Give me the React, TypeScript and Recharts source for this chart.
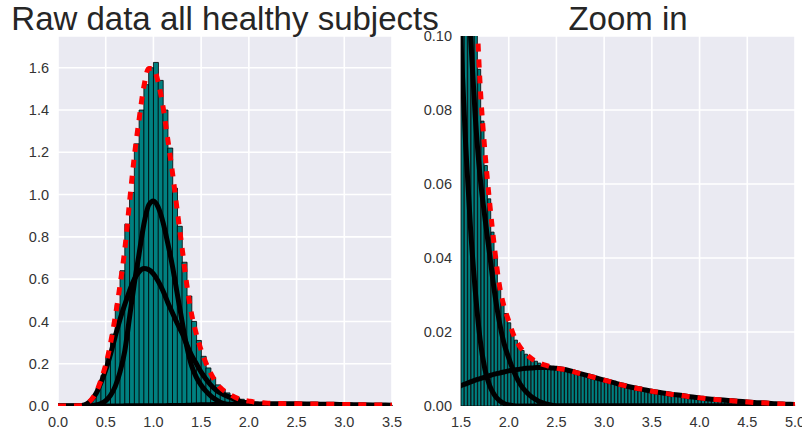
import React from 'react';
import { ComposedChart, Bar, Line, XAxis, YAxis, CartesianGrid } from 'recharts';

const FONT = '"Liberation Sans", Arial, Helvetica, sans-serif';

// histogram, left panel: bin width 0.05 starting at 0.0
const LEFT_BIN = 0.05;
const leftDensity = [
  0, 0, 0, 0, 0.001, 0.005, 0.018, 0.042, 0.085, 0.145,
  0.23, 0.34, 0.48, 0.64, 0.86, 1.01, 1.24, 1.4, 1.52, 1.6,
  1.625, 1.54, 1.4, 1.22, 1.03, 0.85, 0.68, 0.52, 0.4, 0.31,
  0.235, 0.18, 0.135, 0.1, 0.078, 0.062, 0.05, 0.04, 0.032, 0.026,
  0.022, 0.019, 0.017, 0.015, 0.014, 0.013, 0.012, 0.012, 0.011, 0.011,
  0.01, 0.01, 0.0097, 0.0094, 0.009, 0.0087, 0.0083, 0.008, 0.0076, 0.0073,
  0.0069, 0.0066, 0.0062, 0.0059, 0.0056, 0.0053, 0.005, 0.0047, 0.0045, 0.0042,
];

// histogram, right panel: bin width 0.035 starting at 1.5
const RIGHT_BIN = 0.035;
const rightDensity = [
  0.244, 0.202, 0.166, 0.137, 0.111, 0.091, 0.077, 0.065, 0.056, 0.047,
  0.04, 0.033, 0.028, 0.025, 0.0225, 0.0198, 0.0178, 0.0162, 0.015, 0.014,
  0.0132, 0.0126, 0.0121, 0.0116, 0.0112, 0.0109, 0.0107, 0.0104, 0.0102, 0.0101,
  0.0099, 0.0098, 0.0095, 0.0093, 0.0091, 0.0088, 0.0086, 0.0083, 0.0081, 0.0078,
  0.0076, 0.0073, 0.0071, 0.0068, 0.0066, 0.0064, 0.0061, 0.0059, 0.0056, 0.0054,
  0.0052, 0.005, 0.0048, 0.0046, 0.0045, 0.0043, 0.0041, 0.004, 0.0038, 0.0037,
  0.0035, 0.0034, 0.0032, 0.0031, 0.003, 0.0029, 0.0028, 0.0026, 0.0025, 0.0024,
  0.0023, 0.0022, 0.0021, 0.002, 0.0019, 0.0018, 0.0017, 0.0017, 0.0016, 0.0015,
  0.0015, 0.0014, 0.0013, 0.0013, 0.0012, 0.0011, 0.0011, 0.001, 0.0009, 0.0009,
  0.0008, 0.0008, 0.0007, 0.0007, 0.0006, 0.0006, 0.0005, 0.0005, 0.0005, 0.0004,
];

// fitted mixture curves
const curveX = [
  0, 0.05, 0.1, 0.15, 0.2, 0.25, 0.3, 0.35, 0.4, 0.45,
  0.5, 0.55, 0.6, 0.65, 0.7, 0.75, 0.8, 0.85, 0.9, 0.95,
  1.0, 1.05, 1.1, 1.15, 1.2, 1.25, 1.3, 1.35, 1.4, 1.45,
  1.5, 1.55, 1.6, 1.65, 1.7, 1.75, 1.8, 1.85, 1.9, 1.95,
  2.0, 2.05, 2.1, 2.15, 2.2, 2.25, 2.3, 2.35, 2.4, 2.45,
  2.5, 2.6, 2.7, 2.8, 2.9, 3.0, 3.1, 3.2, 3.3, 3.4,
  3.5, 3.6, 3.7, 3.8, 3.9, 4.0, 4.1, 4.2, 4.3, 4.4,
  4.5, 4.6, 4.7, 4.8, 4.9, 5.0,
];
const compA = [
  0, 0, 0, 0, 0, 0, 0.001, 0.002, 0.005, 0.012,
  0.025, 0.05, 0.093, 0.161, 0.26, 0.42, 0.58, 0.72, 0.86, 0.95,
  0.97, 0.94, 0.87, 0.77, 0.66, 0.53, 0.4, 0.28, 0.19, 0.135,
  0.098, 0.07, 0.048, 0.031, 0.018, 0.01, 0.0055, 0.003, 0.0015, 0.0007,
  0.0003, 0.0001, 0, 0, 0, 0, 0, 0, 0, 0,
  0, 0, 0, 0, 0, 0, 0, 0, 0, 0,
  0, 0, 0, 0, 0, 0, 0, 0, 0, 0,
  0, 0, 0, 0, 0, 0,
];
const compB = [
  0, 0, 0, 0, 0.001, 0.003, 0.01, 0.028, 0.06, 0.11,
  0.17, 0.245, 0.33, 0.41, 0.48, 0.545, 0.6, 0.635, 0.65, 0.645,
  0.625, 0.59, 0.545, 0.49, 0.44, 0.39, 0.345, 0.29, 0.24, 0.2,
  0.16, 0.128, 0.1, 0.078, 0.062, 0.051, 0.041, 0.031, 0.023, 0.017,
  0.013, 0.0095, 0.0068, 0.0048, 0.0034, 0.0023, 0.0015, 0.0009, 0.0005, 0.0002,
  0, 0, 0, 0, 0, 0, 0, 0, 0, 0,
  0, 0, 0, 0, 0, 0, 0, 0, 0, 0,
  0, 0, 0, 0, 0, 0,
];
const compC = [
  0, 0, 0, 0.0001, 0.0001, 0.0001, 0.0002, 0.0002, 0.0002, 0.0003,
  0.0003, 0.0004, 0.0005, 0.0005, 0.0006, 0.0007, 0.0008, 0.0009, 0.001, 0.0011,
  0.0013, 0.0014, 0.0016, 0.0018, 0.0021, 0.0023, 0.0026, 0.003, 0.0037, 0.0046,
  0.0055, 0.006, 0.0065, 0.007, 0.0074, 0.0078, 0.0082, 0.0086, 0.0089, 0.0092,
  0.0095, 0.0097, 0.0099, 0.0101, 0.0102, 0.0103, 0.0104, 0.0104, 0.0104, 0.0103,
  0.0102, 0.0098, 0.0091, 0.0084, 0.0077, 0.007, 0.0063, 0.0056, 0.005, 0.0045,
  0.004, 0.0036, 0.0032, 0.0029, 0.0025, 0.0022, 0.0019, 0.0017, 0.0015, 0.0013,
  0.0011, 0.0009, 0.0008, 0.0006, 0.0005, 0.0004,
];
const fitTotal = [
  0, 0, 0, 0.0001, 0.0011, 0.0031, 0.0112, 0.03, 0.065, 0.122,
  0.195, 0.295, 0.424, 0.572, 0.741, 0.966, 1.181, 1.356, 1.511, 1.596,
  1.596, 1.531, 1.417, 1.262, 1.102, 0.922, 0.748, 0.573, 0.434, 0.34,
  0.264, 0.204, 0.155, 0.116, 0.087, 0.069, 0.055, 0.043, 0.033, 0.027,
  0.023, 0.0193, 0.0167, 0.0149, 0.0136, 0.0126, 0.0119, 0.0113, 0.0109, 0.0105,
  0.0102, 0.0098, 0.0091, 0.0084, 0.0077, 0.007, 0.0063, 0.0056, 0.005, 0.0045,
  0.004, 0.0036, 0.0032, 0.0029, 0.0025, 0.0022, 0.0019, 0.0017, 0.0015, 0.0013,
  0.0011, 0.0009, 0.0008, 0.0006, 0.0005, 0.0004,
];

const leftXTicks = [0, 0.5, 1, 1.5, 2, 2.5, 3, 3.5];
const leftYTicks = [0, 0.2, 0.4, 0.6, 0.8, 1.0, 1.2, 1.4, 1.6];
const rightXTicks = [1.5, 2, 2.5, 3, 3.5, 4, 4.5, 5];
const rightYTicks = [0, 0.02, 0.04, 0.06, 0.08, 0.1];

const curveRows = curveX.map((x, i) => ({
  x,
  a: compA[i],
  b: compB[i],
  c: compC[i],
  total: fitTotal[i],
}));

const tickStyle = { fill: '#333333', fontSize: 14.5, fontFamily: FONT };

function Panel({ bins, start, binWidth, width, xDomain, xTicks, yDomain, yTicks, yDigits, yWidth, margin }: any) {
  const rows = bins.map((v: number, i: number) => ({ bin: (start + i * binWidth).toFixed(3), density: v }));
  return (
    <ComposedChart width={width} height={432} data={rows} margin={margin} barCategoryGap={0} barGap={0}>
      <CartesianGrid xAxisId="num" fill="#EAEAF2" fillOpacity={1} stroke="#ffffff" strokeWidth={1.6} />
      <XAxis xAxisId="bin" dataKey="bin" type="category" orientation="top" height={0} hide />
      <XAxis
        xAxisId="num"
        dataKey="x"
        type="number"
        domain={xDomain}
        ticks={xTicks}
        interval={0}
        allowDataOverflow
        tickLine={false}
        axisLine={false}
        tickMargin={5}
        tick={tickStyle}
        tickFormatter={(v: number) => v.toFixed(1)}
        height={20}
      />
      <YAxis
        domain={yDomain}
        ticks={yTicks}
        interval={0}
        allowDataOverflow
        tickLine={false}
        axisLine={false}
        tickMargin={3}
        tick={tickStyle}
        tickFormatter={(v: number) => v.toFixed(yDigits)}
        width={yWidth}
      />
      <Bar xAxisId="bin" dataKey="density" fill="#008080" stroke="#000000" strokeWidth={0.8} isAnimationActive={false} />
      <Line xAxisId="num" data={curveRows} dataKey="a" type="monotone" stroke="#000" strokeWidth={5} dot={false} isAnimationActive={false} />
      <Line xAxisId="num" data={curveRows} dataKey="b" type="monotone" stroke="#000" strokeWidth={5} dot={false} isAnimationActive={false} />
      <Line xAxisId="num" data={curveRows} dataKey="c" type="monotone" stroke="#000" strokeWidth={5} dot={false} isAnimationActive={false} />
      <Line
        xAxisId="num"
        data={curveRows}
        dataKey="total"
        type="monotone"
        stroke="#ff0000"
        strokeWidth={5}
        strokeDasharray="8 8"
        dot={false}
        isAnimationActive={false}
      />
    </ComposedChart>
  );
}

const titleStyle: React.CSSProperties = {
  position: 'absolute',
  top: 2,
  fontFamily: FONT,
  fontSize: 33,
  lineHeight: '33px',
  color: '#262626',
  textAlign: 'center',
  whiteSpace: 'nowrap',
};

export default function App() {
  return (
    <div style={{ position: 'absolute', left: 0, top: 0, width: 802, height: 432, background: '#fff', fontFamily: FONT, overflow: 'hidden' }}>
      <div style={{ position: 'absolute', left: 400, top: 0 }}>
        <Panel
          bins={rightDensity}
          start={1.5}
          binWidth={RIGHT_BIN}
          width={402}
          xDomain={[1.5, 5]}
          xTicks={rightXTicks}
          yDomain={[0, 0.1]}
          yTicks={rightYTicks}
          yDigits={2}
          yWidth={61}
          margin={{ top: 36, right: 7, bottom: 6, left: 0 }}
        />
      </div>
      <div style={{ position: 'absolute', left: 0, top: 0 }}>
        <Panel
          bins={leftDensity}
          start={0}
          binWidth={LEFT_BIN}
          width={412}
          xDomain={[0, 3.5]}
          xTicks={leftXTicks}
          yDomain={[0, 1.75]}
          yTicks={leftYTicks}
          yDigits={1}
          yWidth={50}
          margin={{ top: 36, right: 20, bottom: 6, left: 8 }}
        />
      </div>
      <div style={{ ...titleStyle, left: 0, width: 450 }}>Raw data all healthy subjects</div>
      <div style={{ ...titleStyle, left: 428, width: 400 }}>Zoom in</div>
    </div>
  );
}
